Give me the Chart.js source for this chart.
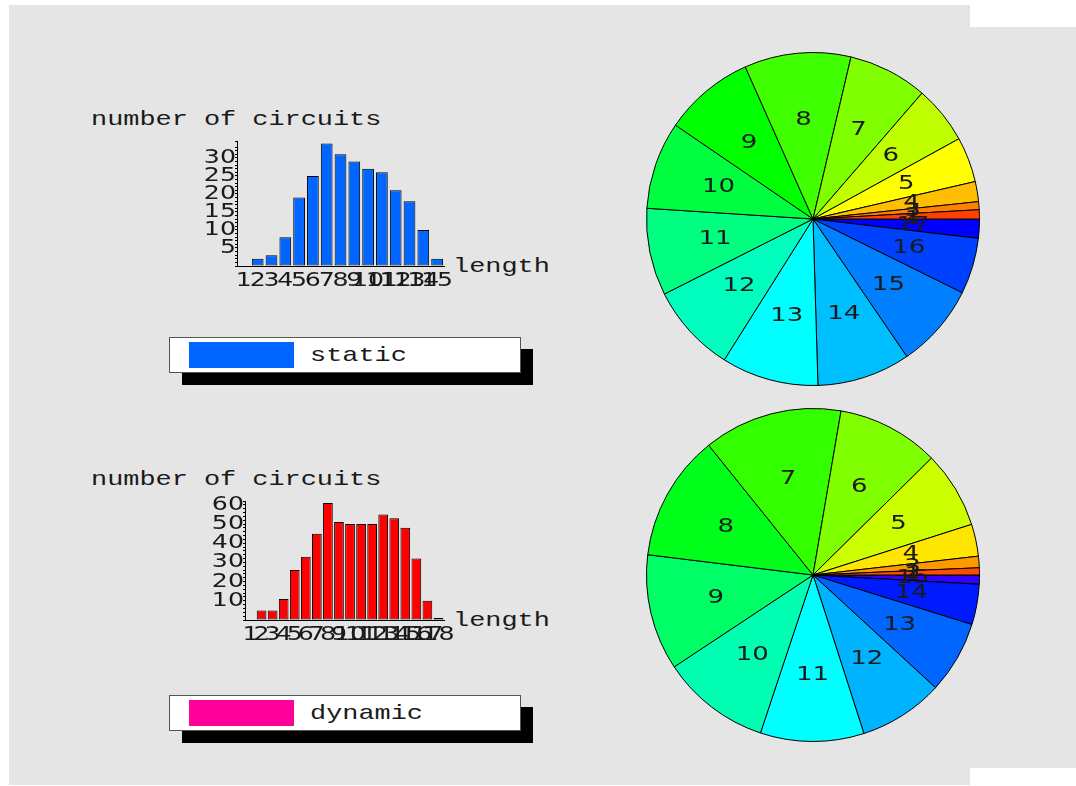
<!DOCTYPE html>
<html><head><meta charset="utf-8">
<script src="https://cdn.jsdelivr.net/npm/chart.js@4"></script>
<style>
html,body{margin:0;padding:0;background:#fff;width:1076px;height:786px;overflow:hidden;position:relative}
.bg{position:absolute;background:#e5e5e5}
.txt{position:absolute;font-family:"Liberation Mono",monospace;font-size:21px;line-height:21px;color:#1a1a1a;white-space:nowrap;transform-origin:0 0;transform:scaleX(1.28)}
canvas{position:absolute}
.shadow{position:absolute;background:#000}
.box{position:absolute;background:#fff;border:1px solid #555;box-sizing:border-box}
.sw{position:absolute}
</style></head><body>
<div class="bg" style="left:9px;top:5px;width:961px;height:780px"></div>
<div class="bg" style="left:9px;top:27px;width:1067px;height:741px"></div>

<div class="txt" style="left:91px;top:109px">number of circuits</div>
<div class="txt" style="left:453px;top:256px">length</div>
<canvas id="barStatic" width="330" height="180" style="left:140px;top:125px"></canvas>

<div class="shadow" style="left:182px;top:349px;width:351px;height:36px"></div>
<div class="box" style="left:169px;top:337px;width:352px;height:36px"></div>
<div class="sw" style="left:189px;top:342px;width:105px;height:26px;background:#0066ff"></div>
<div class="txt" style="left:310px;top:345px">static</div>

<div class="txt" style="left:91px;top:469px">number of circuits</div>
<div class="txt" style="left:453px;top:610px">length</div>
<canvas id="barDynamic" width="330" height="180" style="left:140px;top:485px"></canvas>

<div class="shadow" style="left:182px;top:707px;width:351px;height:36px"></div>
<div class="box" style="left:169px;top:695px;width:352px;height:36px"></div>
<div class="sw" style="left:189px;top:700px;width:105px;height:26px;background:#ff0099"></div>
<div class="txt" style="left:310px;top:703px">dynamic</div>

<canvas id="pieStatic" width="340" height="340" style="left:643px;top:49px"></canvas>
<canvas id="pieDynamic" width="340" height="340" style="left:643px;top:405px"></canvas>

<script>
// ---- data ----
const staticLengths = ['1','2','3','4','5','6','7','8','9','10','11','12','13','14','15'];
const staticCounts  = [0,2,3,8,19,25,34,31,29,27,26,21,18,10,2];
const staticYTickLabels = [5,10,15,20,25,30];

const dynamicLengths = ['1','2','3','4','5','6','7','8','9','10','11','12','13','14','15','16','17','18'];
const dynamicCounts  = [0,5,5,11,26,33,45,61,51,50,50,50,55,53,48,32,10,1];
const dynamicYTickLabels = [10,20,30,40,50,60];

const staticPieLabels = ['1','2','3','4','5','6','7','8','9','10','11','12','13','14','15','16','17'];
const staticPieShares = [0,3.2,2.8,7.0,15.8,20.3,27.7,37.2,31.7,30.6,30.5,31.0,33.9,32.6,29.4,19.6,6.7];
const staticPieColors = ['#ff0000','#ff4000','#ff8000','#ffbf00','#ffff00','#bfff00','#80ff00','#40ff00','#00ff00','#00ff40','#00ff80','#00ffbf','#00ffff','#00bfff','#0080ff','#0040ff','#0000ff'];

const dynamicPieLabels = ['1','2','3','4','5','6','7','8','9','10','11','12','13','14','15'];
const dynamicPieShares = [0,2.5,4.0,11.2,26.9,35.7,48.5,44.2,40.5,38.1,36.2,29.6,25.3,14.1,3.2];
const dynamicPieColors = ['#ff0000','#ff4d00','#ff9900','#ffe600','#ccff00','#80ff00','#33ff00','#00ff1a','#00ff66','#00ffb3','#00ffff','#00b3ff','#0066ff','#001aff','#3300ff'];

// ---- helpers ----
function stretchText(canvas, sx) {
  const ctx = canvas.getContext('2d');
  const orig = ctx.fillText;
  ctx.fillText = function (t, x, y) {
    this.save(); this.translate(x, y); this.scale(sx, 1);
    orig.call(this, t, 0, 0);
    this.restore();
  };
}

function makeBar(id, labels, values, color, yMax, step, yLabels, yW, xH, padTop, bp) {
  const canvas = document.getElementById(id);
  stretchText(canvas, 1.33);
  const tickFont = {family: 'DejaVu Sans', size: 19};
  return new Chart(canvas, {
    type: 'bar',
    data: {labels: labels, datasets: [{data: values, backgroundColor: color, borderColor: '#000', borderWidth: 1,
      borderSkipped: false, barPercentage: bp, categoryPercentage: 1}]},
    options: {
      responsive: false, animation: false, devicePixelRatio: 1, events: [],
      layout: {padding: {top: padTop, right: 26, left: 0, bottom: 0}},
      plugins: {legend: {display: false}, tooltip: {enabled: false}},
      scales: {
        x: {grid: {display: false}, border: {display: true, color: '#000', width: 1},
            ticks: {autoSkip: false, maxRotation: 0, minRotation: 0, padding: -4, color: '#1a1a1a', font: tickFont},
            afterFit: s => { s.height = xH; }},
        y: {min: 0, max: yMax,
            grid: {display: true, drawOnChartArea: false, drawTicks: true, tickLength: 2, color: '#000', lineWidth: 1},
            border: {display: true, color: '#000', width: 1},
            ticks: {stepSize: step, autoSkip: false, maxTicksLimit: 200, padding: -1, color: '#1a1a1a', font: tickFont,
                    callback: v => yLabels.includes(v) ? String(v) : ''},
            afterFit: s => { s.width = yW; }}
      }
    }
  });
}

const sliceLabelPlugin = {
  id: 'sliceLabels',
  afterDatasetsDraw(chart) {
    const ctx = chart.ctx;
    const meta = chart.getDatasetMeta(0);
    const labels = chart.data.labels;
    ctx.save();
    ctx.font = '20px "DejaVu Sans"';
    ctx.fillStyle = '#1a1a1a';
    ctx.textAlign = 'center';
    ctx.textBaseline = 'middle';
    meta.data.forEach((arc, i) => {
      const p = arc.getProps(['x', 'y', 'startAngle', 'endAngle', 'outerRadius'], true);
      const mid = (p.startAngle + p.endAngle) / 2;
      const r = p.outerRadius * 0.6;
      ctx.fillText(labels[i], p.x + r * Math.cos(mid), p.y + r * Math.sin(mid));
    });
    ctx.restore();
  }
};

function makePie(id, labels, values, colors) {
  const canvas = document.getElementById(id);
  stretchText(canvas, 1.3);
  return new Chart(canvas, {
    type: 'pie',
    data: {labels: labels.slice().reverse(),
           datasets: [{data: values.slice().reverse(), backgroundColor: colors.slice().reverse(),
                       borderColor: '#000', borderWidth: 1}]},
    options: {responsive: false, animation: false, devicePixelRatio: 1, events: [], rotation: 90,
              layout: {padding: 3}, plugins: {legend: {display: false}, tooltip: {enabled: false}}},
    plugins: [sliceLabelPlugin]
  });
}

makeBar('barStatic', staticLengths, staticCounts, '#0066ff', 34.7, 1, staticYTickLabels, 97, 39, 16, 0.85);
makeBar('barDynamic', dynamicLengths, dynamicCounts, '#ff0000', 62, 2, dynamicYTickLabels, 105, 45, 16, 0.88);
makePie('pieStatic', staticPieLabels, staticPieShares, staticPieColors);
makePie('pieDynamic', dynamicPieLabels, dynamicPieShares, dynamicPieColors);
</script>
</body></html>
